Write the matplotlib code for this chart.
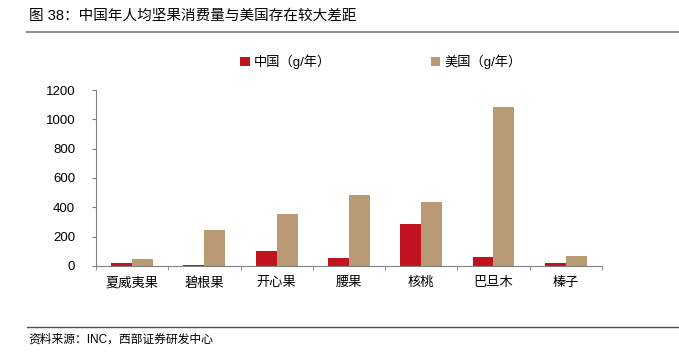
import numpy as np
import matplotlib
matplotlib.use("Agg")
import matplotlib.pyplot as plt

plt.rcParams['font.family'] = ['Liberation Sans', 'Noto Sans CJK SC']

categories = ['夏威夷果', '碧根果', '开心果', '腰果', '核桃', '巴旦木', '榛子']
china = [18, 10, 100, 55, 287, 60, 20]
usa = [50, 245, 355, 484, 437, 1083, 65]
y_ticks = [0, 200, 400, 600, 800, 1000, 1200]

red = '#C0121F'
tan = '#B89A74'
grey = '#808080'

fig = plt.figure(figsize=(6.79, 3.58), dpi=100)
ax = fig.add_axes([0.1414, 0.257, 0.745, 0.4916])

x = np.arange(len(categories))
w = 0.29
ax.bar(x - w / 2, china, w, color=red, label='中国（g/年）')
ax.bar(x + w / 2, usa, w, color=tan, label='美国（g/年）')

ax.set_xlim(-0.5, len(categories) - 0.5)
ax.set_ylim(0, 1200)
ax.set_yticks(y_ticks)
ax.set_yticklabels([str(v) for v in y_ticks], fontsize=9.5)
ax.set_xticks(x)
ax.set_xticklabels(categories, fontsize=9.5)
ax.tick_params(axis='x', length=0, pad=8)
ax.tick_params(axis='y', length=3, color=grey, pad=12)
ax.set_xticks(np.arange(len(categories) + 1) - 0.5, minor=True)
ax.tick_params(axis='x', which='minor', length=3, color=grey)

for s in ['top', 'right']:
    ax.spines[s].set_visible(False)
for s in ['left', 'bottom']:
    ax.spines[s].set_color(grey)
    ax.spines[s].set_linewidth(0.8)

fig.legend(loc='center', bbox_to_anchor=(0.561, 0.828), ncol=2, frameon=False,
           fontsize=9.5, handlelength=0.7, handleheight=0.7, handletextpad=0.3,
           columnspacing=7.6)

fig.text(0.042, 0.955, '图 38：中国年人均坚果消费量与美国存在较大差距', fontsize=10.5,
         va='center', ha='left')
fig.add_artist(plt.Line2D([0.04, 1.0], [0.9106, 0.9106], color='#909090', lw=1.5))
fig.add_artist(plt.Line2D([0.04, 1.0], [0.0866, 0.0866], color='#505050', lw=1))
fig.text(0.042, 0.05, '资料来源：INC，西部证券研发中心', fontsize=8.5, va='center', ha='left')

fig.savefig('out.png', dpi=100)
